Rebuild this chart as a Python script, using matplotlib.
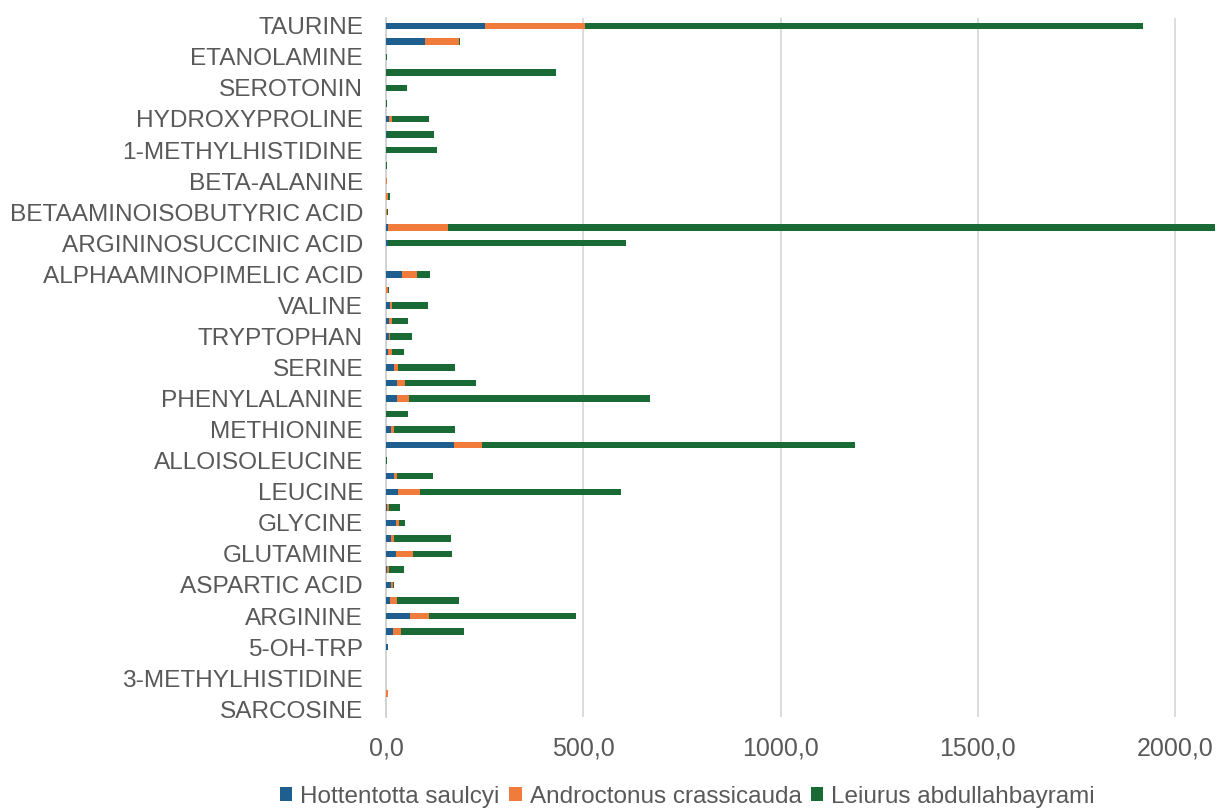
import numpy as np
import matplotlib.pyplot as plt

plt.rcParams['font.family'] = ['Liberation Sans', 'DejaVu Sans']

# categories from bottom to top, the way Excel stacks them; only every other one is labelled
categories = ['SARCOSINE', 'ANSERINE', '3-METHYLHISTIDINE', 'CARNOSINE', '5-OH-TRP',
              'ALANINE', 'ARGININE', 'ASPARAGINE', 'ASPARTIC ACID', 'GLUTAMIC ACID',
              'GLUTAMINE', 'CITRULLINE', 'GLYCINE', 'HISTIDINE', 'LEUCINE',
              'ISOLEUCINE', 'ALLOISOLEUCINE', 'LYSINE', 'METHIONINE', 'ORNITHINE',
              'PHENYLALANINE', 'PROLINE', 'SERINE', 'THREONINE', 'TRYPTOPHAN',
              'TYROSINE', 'VALINE', 'CYSTINE', 'ALPHAAMINOPIMELIC ACID', 'ALPHAAMINOADIPIC ACID',
              'ARGININOSUCCINIC ACID', 'ALPHAAMINOBUTYRIC ACID', 'BETAAMINOISOBUTYRIC ACID', 'CYSTATHIONINE', 'BETA-ALANINE',
              'GAMMAAMINOBUTYRIC ACID', '1-METHYLHISTIDINE', 'HOMOCYSTINE', 'HYDROXYPROLINE', 'PHOSPHOSERINE',
              'SEROTONIN', 'HYDROXYLYSINE', 'ETANOLAMINE', 'PHOSPHOETANOLAMINE', 'TAURINE']

hottentotta = [0, 0, 0, 0, 4,
               17, 61, 11, 13.5, 3,
               24.5, 13.5, 24.5, 3, 30,
               20, 0, 172, 12, 0,
               27, 27, 20, 4, 7,
               7.6, 10, 0, 40.5, 0,
               4, 4, 0, 0, 0,
               0, 0, 3, 7.6, 0,
               0, 0, 0, 100, 251]

androctonus = [0, 4, 0, 0, 0,
               20, 48, 16, 3, 4,
               45, 6, 9.3, 4, 56,
               9, 0, 72, 7.6, 0,
               32, 22, 9.3, 12, 4,
               8.4, 6, 4, 39, 0,
               0, 154, 3, 4, 3,
               0, 0, 0, 8.4, 0,
               0, 0, 0, 84.5, 252.6]

leiurus = [0, 0, 0, 0, 0,
           161, 372, 158, 3, 39,
           99, 145, 15, 29, 510,
           89, 3, 944, 155, 57,
           610, 178, 145, 30, 55,
           40.5, 90, 3, 32, 0,
           604, 1942, 3, 6, 0,
           3, 128, 118, 93, 3,
           52, 431, 3.4, 3.4, 1415]

series_names = ['Hottentotta saulcyi', 'Androctonus crassicauda', 'Leiurus abdullahbayrami']
colors = ['#1f5f8f', '#f07b3a', '#1a6a36']

fig = plt.figure(figsize=(12.19, 8.10), dpi=100)
ax = fig.add_axes([386 / 1219, 1 - 717 / 810, 831 / 1219, 699 / 810])

y = np.arange(len(categories))
h = np.array(hottentotta)
a = np.array(androctonus)
l = np.array(leiurus)

ax.barh(y, h, height=0.42, color=colors[0], label=series_names[0], zorder=3)
ax.barh(y, a, height=0.42, left=h, color=colors[1], label=series_names[1], zorder=3)
ax.barh(y, l, height=0.42, left=h + a, color=colors[2], label=series_names[2], zorder=3)

ax.set_ylim(-0.5, len(categories) - 0.5)
ax.set_xlim(0, 2106)
ax.set_yticks(y[::2])
ax.set_yticklabels(categories[::2])
ax.set_xticks(np.arange(0, 2001, 500))
ax.set_xticklabels([f'{v:.1f}'.replace('.', ',') for v in np.arange(0, 2001, 500)])

ax.tick_params(axis='y', length=0, pad=16.5, labelsize=17.6, labelcolor='#595959')
ax.tick_params(axis='x', length=0, pad=14, labelsize=18, labelcolor='#595959')
ax.grid(axis='x', color='#d9d9d9', linewidth=1.3, zorder=0)

for side in ['top', 'right', 'bottom']:
    ax.spines[side].set_visible(False)
ax.spines['left'].set_color('#d0d0d0')
ax.spines['left'].set_linewidth(1.3)

fig.legend(loc='center', bbox_to_anchor=(687.5 / 1219, 1 - 797 / 810), ncol=3, frameon=False,
           fontsize=17.5, labelcolor='#595959', handlelength=0.5, handleheight=0.5,
           handletextpad=0.33, columnspacing=0.4, borderaxespad=0, borderpad=0)

fig.savefig('out.png', dpi=100)
